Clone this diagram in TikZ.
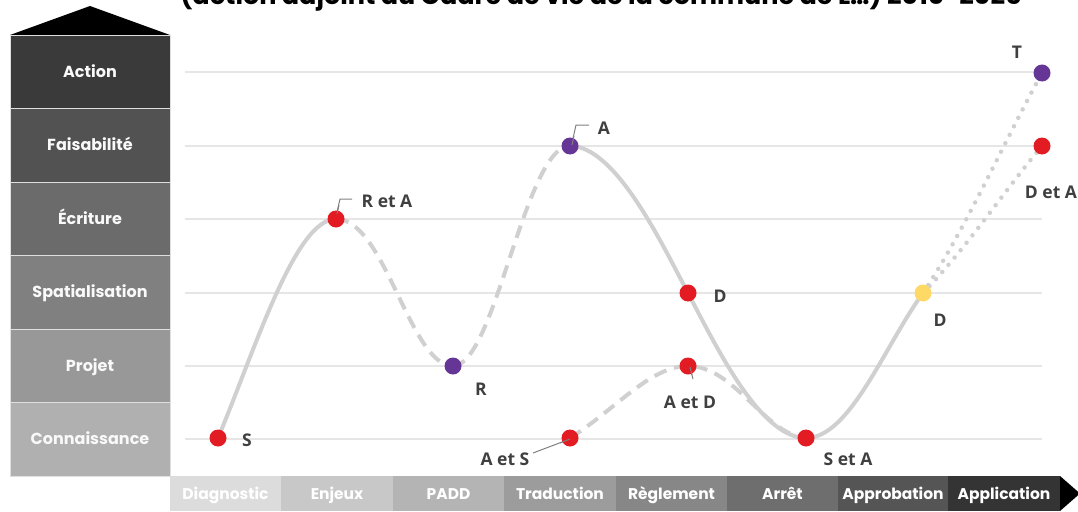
\documentclass[tikz,border=0pt]{standalone}
\usepackage{fontspec}
\setmainfont{Open Sans}
\newfontfamily\geo{Poppins}
\definecolor{lgray}{HTML}{D0D0D0}
\definecolor{grid}{HTML}{E6E6E6}
\definecolor{dred}{HTML}{E31C23}
\definecolor{dpurple}{HTML}{653696}
\definecolor{dyellow}{HTML}{FFD966}
\definecolor{lab}{HTML}{3F3F3F}
\definecolor{r1}{HTML}{3A3A3A}
\definecolor{r2}{HTML}{525252}
\definecolor{r3}{HTML}{6B6B6B}
\definecolor{r4}{HTML}{808080}
\definecolor{r5}{HTML}{989898}
\definecolor{r6}{HTML}{B0B0B0}
\definecolor{b1}{HTML}{DCDCDC}
\definecolor{b2}{HTML}{C8C8C8}
\definecolor{b3}{HTML}{B4B4B4}
\definecolor{b4}{HTML}{9C9C9C}
\definecolor{b5}{HTML}{878787}
\definecolor{b6}{HTML}{6E6E6E}
\definecolor{b7}{HTML}{555555}
\definecolor{b8}{HTML}{343434}
\begin{document}
\begin{tikzpicture}[x=1pt,y=-1pt,
  rowbox/.style={rectangle, minimum width=160pt, minimum height=73.5pt, inner sep=0pt,
    text height=13pt, text depth=2pt,
    draw=white!75!gray, line width=0.8pt, text=white!95!gray, font=\geo\bfseries\fontsize{16}{18}\selectfont},
  barbox/.style={rectangle, minimum height=35pt, inner sep=0pt, text=white,
    text height=13pt, text depth=2pt,
    font=\geo\bfseries\fontsize{15.5}{17}\selectfont},
  dot/.style={circle, minimum size=17pt, inner sep=0pt},
  curve/.style={draw=lgray, line width=4pt},
  dashcurve/.style={curve, dash pattern=on 13pt off 8pt},
  dotcurve/.style={draw=lgray, line width=4.5pt, line cap=round, dash pattern=on 0pt off 9.5pt},
  lbl/.style={text=lab, font=\bfseries\fontsize{17.5}{19}\selectfont, inner sep=0pt},
  leader/.style={draw=gray, line width=1pt},
  gridline/.style={draw=grid, line width=1.5pt}]
\useasboundingbox (0,0) rectangle (1078,511);
% title (cut off at top)
\begin{scope}
\clip (0,0) rectangle (1078,511);
\node[anchor=base, inner sep=0pt, font=\geo\bfseries\fontsize{25.5}{27}\selectfont] (title) at (601,5)
  {(action adjoint au Cadre de vie de la commune de L\ldots) 2010-2025};
\end{scope}
% left column
\fill (10,35) -- (90,6) -- (170,35) -- cycle;
\node[rowbox, fill=r1] (action) at (90,71.75) {Action};
\node[rowbox, fill=r2] (faisa) at (90,145.25) {Faisabilité};
\node[rowbox, fill=r3] (ecri) at (90,218.75) {Écriture};
\node[rowbox, fill=r4] (spat) at (90,292.25) {Spatialisation};
\node[rowbox, fill=r5] (proj) at (90,365.75) {Projet};
\node[rowbox, fill=r6] (conn) at (90,439.25) {Connaissance};
% grid
\foreach \yy in {72,146,219,293,366,439} \draw[gridline] (185,\yy) -- (1042,\yy);
% bottom bar
\node[barbox, fill=b1, minimum width=111pt] (diag) at (225.5,493.5) {Diagnostic};
\node[barbox, fill=b2, minimum width=112pt] (enj) at (337,493.5) {Enjeux};
\node[barbox, fill=b3, minimum width=111pt] (padd) at (448.5,493.5) {PADD};
\node[barbox, fill=b4, minimum width=112pt] (trad) at (560,493.5) {Traduction};
\node[barbox, fill=b5, minimum width=111pt] (regl) at (671.5,493.5) {Règlement};
\node[barbox, fill=b6, minimum width=111pt] (arret) at (782.5,493.5) {Arrêt};
\node[barbox, fill=b7, minimum width=110pt] (appro) at (893,493.5) {Approbation};
\node[barbox, fill=b8, minimum width=112pt] (appli) at (1004,493.5) {Application};
\fill (1060,476) -- (1080,493.5) -- (1060,511) -- cycle;
% points
\coordinate (s) at (218,438);
\coordinate (ra) at (336,219);
\coordinate (r) at (453,366);
\coordinate (a) at (570,146);
\coordinate (d) at (688,293);
\coordinate (ad) at (688,366);
\coordinate (as) at (570,438);
\coordinate (sa) at (806,438);
\coordinate (dy) at (923,293);
\coordinate (t) at (1042,73);
\coordinate (da) at (1042,146);
% curves
\draw[curve] (s) .. controls (255,350) and (295,219) .. (ra);
\draw[dashcurve] (ra) .. controls (385,219) and (410,366) .. (r);
\draw[dashcurve] (r) .. controls (495,366) and (525,146) .. (a);
\draw[curve] (a) .. controls (615,146) and (660,240) .. (d) .. controls (716,346) and (760,438) .. (sa);
\draw[curve] (sa) .. controls (850,438) and (885,345) .. (dy);
\draw[dashcurve] (as) .. controls (615,410) and (650,366) .. (ad) .. controls (735,366) and (765,435) .. (sa);
\draw[dotcurve] (dy) .. controls (965,230) and (1005,140) .. (t);
\draw[dotcurve] (dy) .. controls (965,250) and (1005,190) .. (da);
% leaders
\draw[leader] (337,212) -- (340,199) -- (352,199);
\draw[leader] (572,143) -- (576,125) -- (589,125);
\draw[leader] (570,439) -- (533,453);
\draw[leader] (690,367) -- (693,379);
% dots
\node[dot, fill=dred] (ns) at (s) {};
\node[dot, fill=dred] (nra) at (ra) {};
\node[dot, fill=dpurple] (nr) at (r) {};
\node[dot, fill=dpurple] (na) at (a) {};
\node[dot, fill=dred] (nd) at (d) {};
\node[dot, fill=dred] (nad) at (ad) {};
\node[dot, fill=dred] (nas) at (as) {};
\node[dot, fill=dred] (nsa) at (sa) {};
\node[dot, fill=dyellow] (ndy) at (dy) {};
\node[dot, fill=dpurple] (nt) at (t) {};
\node[dot, fill=dred] (nda) at (da) {};
% leader tips over dots
\draw[leader] (337,214) -- (339,205);
\draw[leader] (572,145) -- (574,136);
\draw[leader] (570,439) -- (560,443);
\draw[leader] (690,367) -- (692,375);
% labels
\node[lbl] (ls) at (247,440) {S};
\node[lbl] (lra) at (387,201) {R et A};
\node[lbl] (lr) at (481,389) {R};
\node[lbl] (la) at (604,128) {A};
\node[lbl] (ld) at (720,296) {D};
\node[lbl] (lad) at (690,402) {A et D};
\node[lbl] (las) at (505,459) {A et S};
\node[lbl] (lsa) at (848,459) {S et A};
\node[lbl] (ldy) at (940,320) {D};
\node[lbl] (lt) at (1017,52) {T};
\node[lbl] (lda) at (1051,192) {D et A};
\end{tikzpicture}
\end{document}
